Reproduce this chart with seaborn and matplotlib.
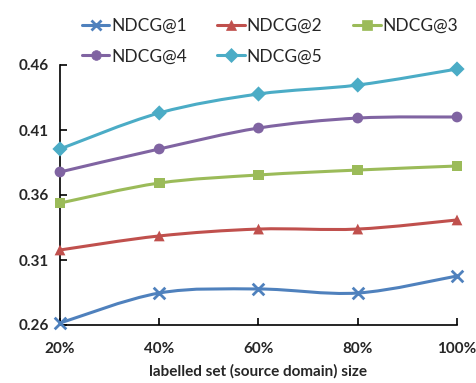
#!/usr/bin/env python3

import numpy as np
import pandas as pd
import matplotlib
matplotlib.use("Agg")
import matplotlib.pyplot as plt
from matplotlib.path import Path
from matplotlib.patches import PathPatch
from matplotlib.lines import Line2D
import seaborn as sns

# data
sizes = ["20%", "40%", "60%", "80%", "100%"]
ndcg1 = [0.2615, 0.2846, 0.2877, 0.2846, 0.2977]
ndcg2 = [0.3177, 0.3285, 0.3338, 0.3338, 0.3408]
ndcg3 = [0.3538, 0.3692, 0.3754, 0.3792, 0.3823]
ndcg4 = [0.3777, 0.3954, 0.4115, 0.4192, 0.4200]
ndcg5 = [0.3954, 0.4231, 0.4377, 0.4446, 0.4569]
series_names = ["NDCG@1", "NDCG@2", "NDCG@3", "NDCG@4", "NDCG@5"]
yticks = [0.26, 0.31, 0.36, 0.41, 0.46]

colors = ["#4F81BD", "#C0504D", "#9BBB59", "#8064A2", "#4BACC6"]
markers = ["x", "^", "s", "o", "D"]


def smooth_path(xs, ys):
    # Excel-like smoothed line: cubic bezier through the points
    pts = np.column_stack([xs, ys]).astype(float)
    verts = [pts[0]]
    codes = [Path.MOVETO]
    n = len(pts)
    for i in range(n - 1):
        p0 = pts[i - 1] if i > 0 else pts[i]
        p1 = pts[i]
        p2 = pts[i + 1]
        p3 = pts[i + 2] if i + 2 < n else pts[i + 1]
        c1 = p1 + (p2 - p0) / 6.0
        c2 = p2 - (p3 - p1) / 6.0
        verts += [c1, c2, p2]
        codes += [Path.CURVE4] * 3
    return Path(verts, codes)


def main():
    sns.set_theme(style="white")
    plt.rcParams["font.family"] = ["Lato", "DejaVu Sans"]

    rows = []
    for name, vals in zip(series_names, [ndcg1, ndcg2, ndcg3, ndcg4, ndcg5]):
        for i, v in enumerate(vals):
            rows.append({"pos": i, "size": sizes[i], "series": name, "value": v})
    df = pd.DataFrame(rows)

    fig = plt.figure(figsize=(4.77, 3.83), dpi=100)
    ax = fig.add_axes([60 / 477, 1 - 325 / 383, 397 / 477, 260 / 383])

    for name, c in zip(series_names, colors):
        sub = df[df["series"] == name]
        patch = PathPatch(smooth_path(sub["pos"], sub["value"]), facecolor="none",
                          edgecolor=c, lw=2.2, clip_on=False, zorder=2)
        ax.add_patch(patch)

    filled = df[df["series"] != "NDCG@1"]
    sns.scatterplot(data=filled, x="pos", y="value", hue="series", style="series",
                    palette=colors[1:], markers=dict(zip(series_names[1:], markers[1:])),
                    s=60, linewidth=0, legend=False, ax=ax, zorder=3)
    sub = df[df["series"] == "NDCG@1"]
    ax.scatter(sub["pos"], sub["value"], marker="x", s=70, color=colors[0],
               linewidths=2, zorder=4)
    for coll in ax.collections:
        coll.set_clip_on(False)

    ax.set_xlim(0, 4)
    ax.set_ylim(0.26, 0.46)
    ax.set_xticks(range(len(sizes)))
    ax.set_xticklabels(sizes)
    ax.set_yticks(yticks)
    ax.set_yticklabels([f"{t:.2f}" for t in yticks])

    for lab in ax.get_xticklabels() + ax.get_yticklabels():
        lab.set_fontweight("bold")
        lab.set_fontsize(11)
    ax.tick_params(axis="x", direction="in", length=5, width=1.2, color="black", pad=12)
    ax.tick_params(axis="y", direction="in", length=5, width=1.2, color="black", pad=8)
    ax.tick_params(bottom=True, left=True)

    sns.despine(ax=ax)
    for sp in ["left", "bottom"]:
        ax.spines[sp].set_color("black")
        ax.spines[sp].set_linewidth(1.2)

    ax.set_xlabel("labelled set (source domain) size", fontsize=11, fontweight="bold",
                  labelpad=6)
    ax.set_ylabel("")

    handles = [Line2D([0], [0], color=c, marker=m, lw=2.2, markersize=7,
                      markeredgewidth=2 if m == "x" else 0.5, markeredgecolor=c)
               for c, m in zip(colors, markers)]
    # legend fills column by column, so reorder to read row by row
    order = [0, 3, 1, 4, 2]
    fig.legend([handles[i] for i in order], [series_names[i] for i in order],
               loc="upper left", ncol=3,
               bbox_to_anchor=(66 / 477, 1 - 2 / 383), frameon=False,
               fontsize=12.5, handlelength=1.6, handletextpad=0.1,
               columnspacing=1.75, labelspacing=0.85)

    fig.savefig("out.png", dpi=100)


if __name__ == "__main__":
    main()
